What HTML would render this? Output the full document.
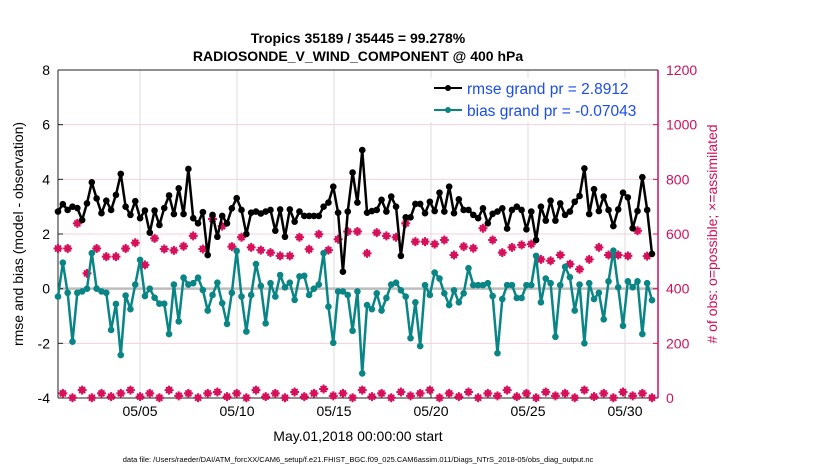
<!DOCTYPE html>
<html><head><meta charset="utf-8"><style>
body{margin:0;background:#fff;font-family:"Liberation Sans",sans-serif}
</style></head><body>
<svg id="chart" width="830" height="470" xmlns="http://www.w3.org/2000/svg" font-family="Liberation Sans, sans-serif">
<g id="grid"></g>
<g id="axes"></g>
<g id="marks"></g>
<text x="358" y="43" text-anchor="middle" font-size="14" font-weight="bold">Tropics 35189 / 35445 = 99.278%</text>
<text x="358" y="61" text-anchor="middle" font-size="14" font-weight="bold">RADIOSONDE_V_WIND_COMPONENT @ 400 hPa</text>
<text transform="translate(23,234) rotate(-90)" text-anchor="middle" font-size="14">rmse and bias (model - observation)</text>
<text transform="translate(717,234) rotate(-90)" text-anchor="middle" font-size="14" fill="#d0105a"># of obs: o=possible; ×=assimilated</text>
<text x="358" y="441" text-anchor="middle" font-size="14">May.01,2018 00:00:00 start</text>
<text x="358" y="462" text-anchor="middle" font-size="7.5">data file: /Users/raeder/DAI/ATM_forcXX/CAM6_setup/f.e21.FHIST_BGC.f09_025.CAM6assim.011/Diags_NTrS_2018-05/obs_diag_output.nc</text>
<g>
<rect x="427" y="78" width="225" height="44" fill="#fff"/>
<line x1="434" y1="88" x2="462" y2="88" stroke="#000" stroke-width="2"/><circle cx="448" cy="88" r="3" fill="#000"/>
<text x="467" y="94" font-size="15.5" fill="#1a4cf0">rmse grand pr = 2.8912</text>
<line x1="434" y1="110" x2="462" y2="110" stroke="#0a8585" stroke-width="2"/><circle cx="448" cy="110" r="3" fill="#0a8585"/>
<text x="467" y="116" font-size="15.5" fill="#1a4cf0">bias grand pr = -0.07043</text>
</g>
</svg>
<script>
const rmse=[2.82,3.09,2.88,3.0,2.95,2.51,3.12,3.89,3.3,2.76,3.22,2.88,3.43,4.2,3.0,2.7,3.2,2.58,2.86,2.05,2.86,2.33,2.95,3.41,2.73,3.67,2.73,4.38,2.58,2.39,2.8,1.23,
2.7,1.9,2.66,2.39,2.94,3.31,2.88,2.0,2.78,2.82,2.75,2.82,2.88,2.12,2.9,1.9,2.9,2.45,2.82,2.66,2.66,2.66,2.66,3.0,3.15,3.73,2.78,0.62,2.82,4.25,3.15,5.07,
2.78,2.84,2.88,3.25,2.82,3.37,3.0,1.2,2.61,2.61,3.1,3.1,2.76,3.18,2.84,3.51,2.82,3.73,2.76,3.27,2.88,2.88,2.7,2.58,2.94,2.39,2.74,2.82,2.94,2.2,
2.88,3.0,2.88,2.17,2.82,1.78,3.0,2.49,3.22,2.49,3.12,2.7,2.82,3.18,3.39,4.4,2.73,3.64,2.84,3.37,2.88,2.29,2.9,3.51,3.34,2.21,2.84,4.08,2.88,1.27];
const bias=[-0.29,0.95,-0.15,-1.94,-0.15,-0.1,0.0,1.3,0,-0.1,-0.15,-1.51,-0.56,-2.43,-0.25,-0.75,0.15,1.05,-0.27,0.0,-0.33,-0.55,-0.55,-1.66,0.15,-1.2,0.4,0.15,0.2,0.4,-0.05,-0.8,
-0.23,0.22,-0.53,-1.29,-0.15,1.38,-0.29,-1.57,-0.23,0.9,0.1,-1.27,0.2,-0.29,0.5,0.05,0.22,-0.41,0.45,0.47,-0.23,0.0,0.15,1.3,-0.66,-1.98,-0.1,-0.1,-0.23,-1.54,-0.1,-3.1,
-0.6,-0.75,-0.17,-0.8,-0.34,0.15,0.22,-0.06,-0.29,-1.81,-0.5,-2.1,0.13,-0.23,0.59,0.37,-0.17,-0.6,-0.06,-0.5,-0.17,0.75,0.13,0.13,0.13,0.2,-0.27,-2.36,-0.38,0.13,
0.13,-0.34,-0.34,0.13,0.13,1.2,-0.5,0.37,0.2,-1.76,0.13,0.8,0.42,-0.8,0.15,-2.0,0.2,-0.38,-0.15,-1.12,0.27,1.39,0.05,-1.36,0.27,0.05,0.27,-1.66,0.2,-0.42];
const countsMain=[547,547,639,456,547,517,517,547,568,487,584,545,540,555,593,545,
655,629,554,588,551,541,532,520,520,588,544,599,541,581,609,609,
529,605,593,588,639,572,572,563,578,523,554,548,621,578,532,
551,560,563,507,502,523,490,471,507,551,523,523,520,612,519];
const countsOff=[17,1,29,1,17,5,17,29,5,17,1,29,8,17,1,17,
22,5,17,1,29,5,17,1,22,5,17,33,8,17,1,
29,5,17,1,22,8,17,29,1,17,5,22,1,17,8,
29,5,17,1,22,8,17,1,29,5,17,1,22,8,17,1];
const dayTicks=[5,10,15,20,25,30];
const dayLabels=["05/05","05/10","05/15","05/20","05/25","05/30"];
const yTicks=[-4,-2,0,2,4,6,8];
const rTicks=[0,200,400,600,800,1000,1200];

const NS="http://www.w3.org/2000/svg";
const L=58,R=658,T=70,B=398;
const N=rmse.length;
const xIdx=i=>58+i*(652-58)/(N-1);
const xDay=d=>140+(d-5)*19.4;
const yL=v=>T+(8-v)*(B-T)/12;
const yR=v=>B-v*(B-T)/1200;
function el(tag,attrs,parent){const e=document.createElementNS(NS,tag);for(const k in attrs)e.setAttribute(k,attrs[k]);parent.appendChild(e);return e;}
const grid=document.getElementById('grid'),axes=document.getElementById('axes'),marks=document.getElementById('marks');
el('rect',{x:L,y:T,width:R-L,height:B-T,fill:'#fff'},grid);
dayTicks.forEach((d,i)=>{
  const g=el('line',{x1:xDay(d),x2:xDay(d),y1:T,y2:B,stroke:'#dcdcdc','stroke-width':1},grid);
  
  
  const t=el('text',{x:xDay(d),y:B+18,'text-anchor':'middle','font-size':14},axes);
  t.textContent=dayLabels[i];
  
  
  el('line',{x1:xDay(d),x2:xDay(d),y1:B,y2:B-5,stroke:'#222'},axes);
});
yTicks.forEach(v=>{
  if(v!==-4&&v!==8&&v!==0){const g=el('line',{x1:L,x2:R,y1:yL(v),y2:yL(v),stroke:'#f5d0de','stroke-width':1},grid);
  
  }
  const t=el('text',{x:L-8,y:yL(v)+5,'text-anchor':'end','font-size':14},axes);
  t.textContent=v;
  
  
  el('line',{x1:L,x2:L+5,y1:yL(v),y2:yL(v),stroke:'#222'},axes);
});
rTicks.forEach(v=>{
  const t=el('text',{x:R+8,y:yR(v)+5,'font-size':14,fill:'#d0105a'},axes);
  t.textContent=v;
  
  
  el('line',{x1:R,x2:R-5,y1:yR(v),y2:yR(v),stroke:'#d0105a'},axes);
});
el('line',{x1:L,x2:R,y1:yL(0),y2:yL(0),stroke:'#bdbdbd','stroke-width':2.5},grid);
el('line',{x1:L,x2:R,y1:T,y2:T,stroke:'#222'},axes);
el('line',{x1:L,x2:R,y1:B,y2:B,stroke:'#222'},axes);
el('line',{x1:L,x2:L,y1:T,y2:B,stroke:'#222'},axes);
el('line',{x1:R,x2:R,y1:T,y2:B,stroke:'#d0105a','stroke-width':1.5},axes);

// counts
const cCol='#d6105a';
function countMark(x,y){
  const g=el('g',{},marks);
  
  
  el('circle',{cx:x,cy:y,r:2.8,fill:cCol,stroke:cCol,'stroke-width':1},g);
  el('path',{d:`M${x-3} ${y-3}L${x+3} ${y+3}M${x-3} ${y+3}L${x+3} ${y-3}`,stroke:cCol,'stroke-width':1.8},g);
  el('path',{d:`M${x} ${y-4.5}L${x} ${y+4.5}M${x-4.5} ${y}L${x+4.5} ${y}`,stroke:cCol,'stroke-width':2},g);
}
countsMain.forEach((v,k)=>{const i=2*k;if(i<N)countMark(xIdx(i),yR(v));});
countsOff.forEach((v,k)=>{const i=2*k+1;if(i<N)countMark(xIdx(i),yR(v));});

function series(arr,col,name){
  const p=el('polyline',{points:arr.map((v,i)=>xIdx(i)+','+yL(v)).join(' '),fill:'none',stroke:col,'stroke-width':2.5,'stroke-linejoin':'round'},marks);
  
  
  arr.forEach((v,i)=>{
    const c=el('circle',{cx:xIdx(i),cy:yL(v),r:3.3,fill:col},marks);
    
    
  });
}
series(bias,'#0a8585','bias');
series(rmse,'#000','rmse');
</script>
</body></html>
